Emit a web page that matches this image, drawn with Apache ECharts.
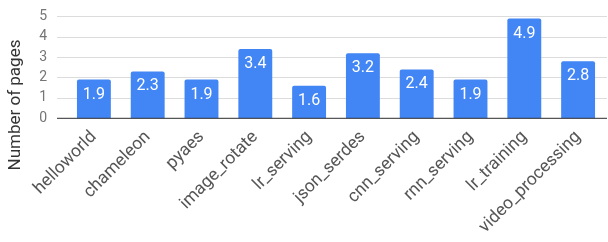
<!DOCTYPE html>
<html>
<head>
<meta charset="utf-8">
<script src="https://cdn.jsdelivr.net/npm/echarts@6/dist/echarts.min.js"></script>
<style>
  html, body { margin: 0; padding: 0; background: #fff; }
  #chart { width: 608px; height: 242px; }
</style>
</head>
<body>
<div id="chart"></div>
<script>
var categories = ['helloworld', 'chameleon', 'pyaes', 'image_rotate', 'lr_serving',
  'json_serdes', 'cnn_serving', 'rnn_serving', 'lr_training', 'video_processing'];
var pages = [1.9, 2.3, 1.9, 3.4, 1.6, 3.2, 2.4, 1.9, 4.9, 2.8];
var yTicks = [0, 1, 2, 3, 4, 5];

var dom = document.getElementById('chart');
var myChart = echarts.init(dom, null, { renderer: 'canvas' });

var fontFamily = 'Roboto, sans-serif';

var option = {
  backgroundColor: '#fff',
  animation: false,
  // grid 0 carries the gridlines and y labels, grid 1 carries the bars
  grid: [
    { left: 57, right: 1, top: 16.5, bottom: 123.7 },
    { left: 67, right: 3, top: 16.5, bottom: 123.7 }
  ],
  xAxis: [
    {
      gridIndex: 0,
      type: 'value',
      min: 0,
      max: 1,
      show: false
    },
    {
      gridIndex: 1,
      type: 'category',
      data: categories,
      axisLine: { show: false },
      axisTick: { show: false },
      axisLabel: {
        rotate: 45,
        interval: 0,
        margin: 16,
        color: '#555',
        fontSize: 17.5,
        fontFamily: fontFamily
      }
    }
  ],
  yAxis: [
    {
      gridIndex: 0,
      type: 'value',
      min: yTicks[0],
      max: yTicks[yTicks.length - 1],
      interval: 1,
      axisLine: { show: false },
      axisTick: { show: false },
      axisLabel: {
        margin: 10,
        color: '#757575',
        fontSize: 14,
        fontFamily: fontFamily
      },
      splitLine: { lineStyle: { color: '#dcdcdc', width: 1 } }
    },
    {
      gridIndex: 1,
      type: 'value',
      min: yTicks[0],
      max: yTicks[yTicks.length - 1],
      interval: 1,
      show: false,
      splitLine: { show: false }
    }
  ],
  graphic: [
    {
      type: 'text',
      x: 16,
      y: 105,
      rotation: Math.PI / 2,
      style: {
        text: 'Number of pages',
        fill: '#333',
        font: '17px Roboto, sans-serif',
        align: 'center',
        verticalAlign: 'middle'
      }
    },
    {
      type: 'line',
      shape: { x1: 57, y1: 118.3, x2: 607, y2: 118.3 },
      style: { stroke: '#333', lineWidth: 1 },
      z: 10
    }
  ],
  series: [
    {
      type: 'bar',
      xAxisIndex: 1,
      yAxisIndex: 1,
      data: pages,
      barWidth: '63%',
      itemStyle: { color: '#4285F4', borderRadius: [2, 2, 0, 0] },
      label: {
        show: true,
        position: 'insideTop',
        distance: 7,
        color: '#fff',
        fontSize: 16,
        fontFamily: fontFamily
      }
    }
  ]
};

myChart.setOption(option);
</script>
</body>
</html>
